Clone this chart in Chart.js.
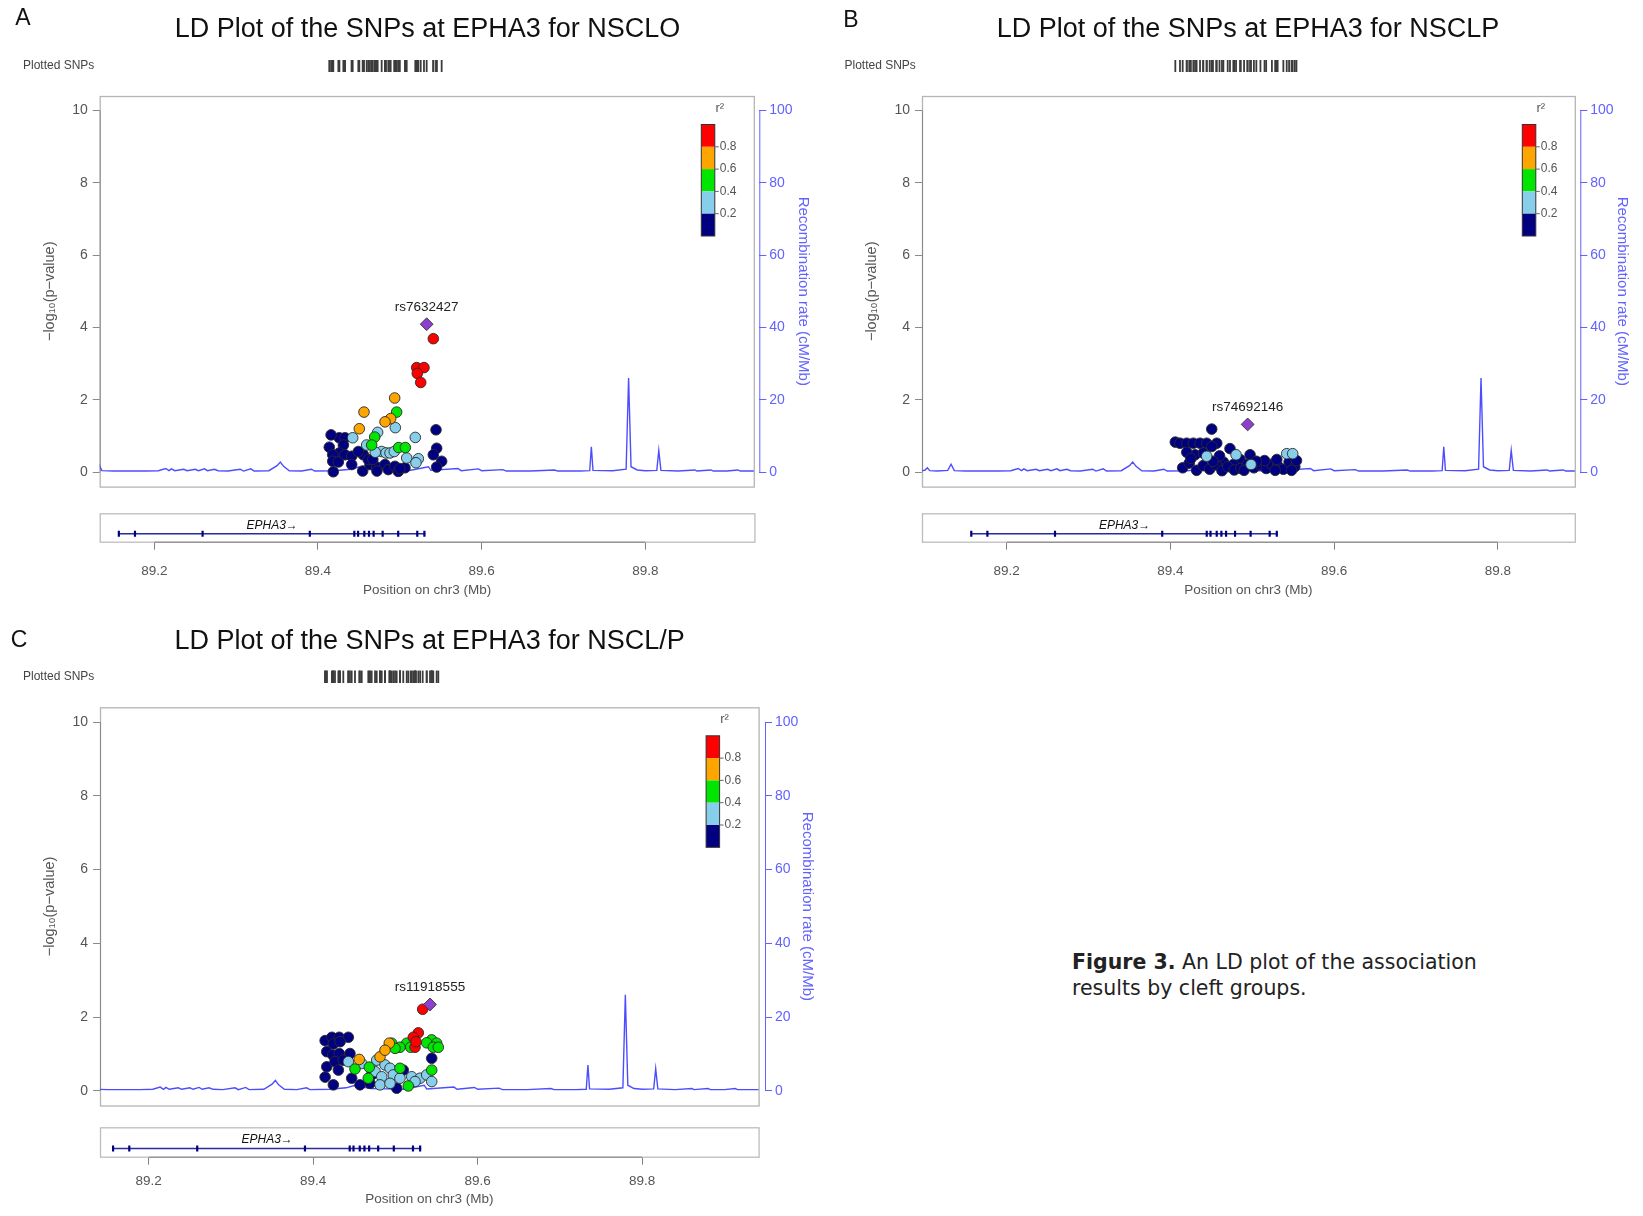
<!DOCTYPE html>
<html><head><meta charset="utf-8">
<script src="https://cdn.jsdelivr.net/npm/chart.js@4.4.0/dist/chart.umd.min.js"></script>
<style>
html,body{margin:0;padding:0;background:#fff;width:1643px;height:1216px;overflow:hidden;position:relative;}
canvas{position:absolute;}
#cap{position:absolute;left:1072px;top:949px;font-family:"DejaVu Sans","Open Sans",sans-serif;font-size:20.5px;line-height:26px;color:#222;}
</style></head><body>
<div id="cap"><b>Figure 3.</b> An LD plot of the association<br>results by cleft groups.</div>
<script>
// ---------------- data ----------------
const xTickValues = [89.2, 89.4, 89.6, 89.8];
const xTickLabels = ['89.2', '89.4', '89.6', '89.8'];
const yTickValues = [0, 2, 4, 6, 8, 10];
const recombTickValues = [0, 20, 40, 60, 80, 100];
const ldBreakLabels = ['0.8', '0.6', '0.4', '0.2'];

const geneName = 'EPHA3';
const geneStart = 89.1567, geneEnd = 89.5313;
const geneExons = [89.1567, 89.1764, 89.259, 89.390, 89.4444, 89.449, 89.4566, 89.4623, 89.468, 89.479, 89.498, 89.5213, 89.530];

const recombPos  = [89.090,89.100,89.103,89.106,89.115,89.128,89.132,89.136,89.150,89.170,89.190,89.205,89.214,89.218,89.221,89.225,89.236,89.240,89.250,89.254,89.2614,89.265,89.2735,89.278,89.290,89.305,89.309,89.318,89.322,89.340,89.350,89.354,89.358,89.365,89.380,89.392,89.396,89.420,89.440,89.450,89.460,89.470,89.490,89.510,89.535,89.538,89.571,89.575,89.596,89.600,89.626,89.630,89.660,89.689,89.693,89.720,89.732,89.734,89.736,89.760,89.7765,89.7795,89.7825,89.790,89.800,89.814,89.8164,89.819,89.840,89.8604,89.863,89.880,89.883,89.900,89.913,89.916,89.930,89.950];
const recombRate = [0.4,0.5,1.2,0.4,0.3,0.5,2.2,0.4,0.3,0.3,0.3,0.4,1.0,0.4,0.9,0.4,0.8,0.4,0.8,0.4,0.9,0.4,0.8,0.4,0.3,0.8,0.3,0.9,0.3,0.4,1.8,2.8,1.6,0.4,0.3,0.8,0.3,0.4,0.8,1.4,1.0,0.6,0.5,0.4,1.5,0.5,1.0,0.4,0.9,0.4,0.7,0.3,0.3,0.6,0.3,0.3,0.4,7.0,0.5,0.4,0.8,26.0,1.5,0.6,0.4,0.5,6.0,0.5,0.3,0.6,0.3,0.6,0.3,0.3,0.6,0.3,0.3,0.3];

// Panel A: NSCLO  [position (Mb), -log10 p]
const leadA = ['rs7632427', 89.5328, 4.09];
const A_r08 = [[89.5409,3.69],[89.5206,2.89],[89.5295,2.89],[89.5213,2.73],[89.5255,2.48]];
const A_r06 = [[89.4937,2.05],[89.4562,1.66],[89.4888,1.48],[89.4819,1.39],[89.4505,1.20]];
const A_r04 = [[89.4961,1.66],[89.4693,0.97],[89.4656,0.75],[89.4986,0.68],[89.5067,0.68]];
const A_r02 = [[89.4945,1.23],[89.4729,1.10],[89.5189,0.96],[89.4424,0.95],[89.4595,0.75],[89.4778,0.57],[89.4831,0.53],[89.4880,0.53],[89.4932,0.57],[89.5084,0.39],[89.5226,0.37],[89.5197,0.26],[89.4700,0.55]];
const A_r00 = [[89.5442,1.17],[89.4260,0.95],[89.4330,0.95],[89.4160,1.03],[89.4138,0.69],[89.4310,0.75],[89.5450,0.66],[89.4260,0.53],[89.4330,0.48],[89.4412,0.44],[89.4180,0.48],[89.4554,0.48],[89.4493,0.57],[89.5409,0.48],[89.5511,0.30],[89.5450,0.14],[89.4180,0.30],[89.4249,0.28],[89.4412,0.21],[89.4546,0.03],[89.4635,0.21],[89.4717,0.14],[89.4819,0.21],[89.4859,0.07],[89.4940,0.16],[89.4981,0.02],[89.5063,0.12],[89.4187,0.01],[89.4614,0.35],[89.4670,0.35],[89.4720,0.03],[89.5000,0.10]];

// Panel B: NSCLP
const leadB = ['rs74692146', 89.4944, 1.32];
const B_r08 = [];
const B_r06 = [];
const B_r04 = [];
const B_r02 = [[89.4443,0.44],[89.4802,0.48],[89.4985,0.21],[89.5421,0.51],[89.5494,0.51]];
const B_r00 = [[89.4505,1.19],[89.4060,0.83],[89.4117,0.80],[89.4199,0.80],[89.4280,0.80],[89.4362,0.80],[89.4443,0.80],[89.4566,0.80],[89.4505,0.71],[89.4301,0.48],[89.4728,0.65],[89.4402,0.53],[89.4973,0.48],[89.4851,0.35],[89.4647,0.28],[89.4769,0.21],[89.4150,0.12],[89.4230,0.25],[89.4320,0.05],[89.4400,0.18],[89.4480,0.08],[89.4560,0.20],[89.4630,0.04],[89.4700,0.15],[89.4780,0.06],[89.4860,0.10],[89.4940,0.22],[89.5020,0.12],[89.5100,0.20],[89.5170,0.10],[89.5240,0.22],[89.5310,0.18],[89.5380,0.08],[89.5450,0.28],[89.5520,0.15],[89.4200,0.55],[89.4600,0.45],[89.5150,0.32],[89.5300,0.35],[89.5540,0.32],[89.5050,0.30],[89.4250,0.38],[89.4520,0.30],[89.4900,0.05],[89.5280,0.05],[89.5480,0.05]];

// Panel C: NSCL/P
const leadC = ['rs11918555', 89.5420, 2.34];
const C_r08 = [[89.5331,2.21],[89.5278,1.57],[89.5217,1.45],[89.5238,1.18],[89.5250,1.33]];
const C_r06 = [[89.4925,1.29],[89.4812,0.92],[89.4560,0.85],[89.4873,1.10]];
const C_r04 = [[89.4954,1.29],[89.5440,1.38],[89.5501,1.29],[89.5380,1.30],[89.5460,1.18],[89.5521,1.18],[89.5137,1.29],[89.5055,1.18],[89.4995,1.15],[89.5185,1.18],[89.4508,0.59],[89.4682,0.64],[89.4670,0.34],[89.5055,0.61],[89.5441,0.56],[89.5156,0.13]];
const C_r02 = [[89.4427,0.79],[89.4590,0.74],[89.4772,0.83],[89.4873,0.70],[89.4934,0.61],[89.4752,0.52],[89.4833,0.38],[89.4974,0.43],[89.5055,0.34],[89.5198,0.38],[89.5300,0.34],[89.5380,0.43],[89.4812,0.16],[89.4934,0.20],[89.5238,0.25],[89.5441,0.25]];
const C_r00 = [[89.4145,1.36],[89.4227,1.45],[89.4317,1.45],[89.4427,1.45],[89.4245,1.27],[89.4327,1.33],[89.4165,1.06],[89.4238,0.97],[89.4317,1.01],[89.4447,1.01],[89.5441,0.88],[89.5015,0.07],[89.4145,0.37],[89.4165,0.65],[89.4265,0.79],[89.4366,0.83],[89.4306,0.56],[89.4468,0.34],[89.4569,0.16],[89.4691,0.20],[89.5095,0.56],[89.4245,0.16],[89.4711,0.43]];

// ---------------- styling / layout ----------------
const FONT = '"Liberation Sans", Arial, sans-serif';
Chart.defaults.font.family = FONT;
const LD_COLORS = ['#ff0000', '#ffa500', '#00e600', '#87ceeb', '#000080'];
const LEAD_COLOR = '#8e3fd0';
const RECOMB_COLOR = '#4d4dff';
const RECOMB_TEXT = '#6262ff';
const AXIS_TEXT = '#555555';

const panels = [
  {letter:'A', title:'LD Plot of the SNPs at EPHA3 for NSCLO', lead:leadA, bins:[A_r08,A_r06,A_r04,A_r02,A_r00],
   left:0, top:0, w:820, h:500, aL:99.7, aR:759.3, aT:96, aB:492.4, gap:5.5, xmin:89.1333, xmax:89.9392,
   titleXY:[427.5,29.3], letterXY:[23,19], plotted:[23,66], rug:[60,72], yTitleX:50, rTitleX:803.3,
   gTop:500, gH:110, gAT:513.3, gAB:541.7, gR:754.4, gxmin:89.1333, gxmax:89.9332, tickPad:13.5, titlePadB:11.5},
  {letter:'B', title:'LD Plot of the SNPs at EPHA3 for NSCLP', lead:leadB, bins:[B_r08,B_r06,B_r04,B_r02,B_r00],
   left:822, top:0, w:821, h:500, aL:922, aR:1580.3, aT:96, aB:492.4, gap:5.5, xmin:89.0965, xmax:89.9008,
   titleXY:[1248,29.3], letterXY:[851,21], plotted:[844.5,66], rug:[60,72], yTitleX:871.8, rTitleX:1622,
   gTop:500, gH:110, gAT:513.3, gAB:541.7, gR:1574.8, gxmin:89.0965, gxmax:89.8941, tickPad:13.5, titlePadB:11.5},
  {letter:'C', title:'LD Plot of the SNPs at EPHA3 for NSCL/P', lead:leadC, bins:[C_r08,C_r06,C_r04,C_r02,C_r00],
   left:0, top:600, w:820, h:520, aL:100, aR:765, aT:707.3, aB:1105.5, gap:6.4, xmin:89.1408, xmax:89.9493,
   titleXY:[429.6,641.3], letterXY:[19,641], plotted:[23,677], rug:[670.6,683], yTitleX:50.3, rTitleX:806.8,
   gTop:1120, gH:96, gAT:1127.3, gAB:1156.7, gR:758.6, gxmin:89.1408, gxmax:89.9415, tickPad:8.5, titlePadB:8.9}
];

function makeCanvas(left, top, w, h) {
  const c = document.createElement('canvas');
  c.width = w; c.height = h;
  c.style.left = left + 'px'; c.style.top = top + 'px';
  c.style.width = w + 'px'; c.style.height = h + 'px';
  document.body.appendChild(c);
  return c;
}
const toPts = arr => arr.map(d => ({x: d[0], y: d[1]}));

function makeMain(p) {
  const canvas = makeCanvas(p.left, p.top, p.w, p.h);
  const datasets = [];
  datasets.push({type:'scatter', label:'lead', data:[{x:p.lead[1], y:p.lead[2]}], pointStyle:'rectRot', pointRadius:6.4,
    backgroundColor:LEAD_COLOR, borderColor:'#333', borderWidth:0.9, yAxisID:'y'});
  p.bins.forEach((b, i) => datasets.push({type:'scatter', label:'ld'+i, data:toPts(b), pointStyle:'circle', pointRadius:5.3,
    backgroundColor:LD_COLORS[i], borderColor:'#2a2a2a', borderWidth:0.9, yAxisID:'y'}));
  datasets.push({type:'line', label:'recomb', data:recombPos.map((x, i) => ({x, y:recombRate[i]})), yAxisID:'y2',
    borderColor:RECOMB_COLOR, borderWidth:1.4, pointRadius:0, tension:0, fill:false,
    clip:{left:0, top:0, right:-p.gap, bottom:0}});
  const allX = [p.lead[1]].concat(...p.bins.map(b => b.map(d => d[0])));

  const deco = {
    id:'deco'+p.letter,
    beforeDatasetsDraw(chart) {
      const {ctx, chartArea:ca, scales} = chart;
      ctx.save();
      ctx.strokeStyle = '#b5b5b5'; ctx.lineWidth = 1.3;
      ctx.strokeRect(ca.left + 0.5, ca.top + 0.5, ca.right - p.gap - ca.left, ca.bottom - ca.top);
      ctx.strokeStyle = RECOMB_TEXT; ctx.lineWidth = 1;
      ctx.beginPath();
      ctx.moveTo(ca.right + 0.5, scales.y2.getPixelForValue(0));
      ctx.lineTo(ca.right + 0.5, scales.y2.getPixelForValue(100));
      ctx.stroke();
      ctx.strokeStyle = '#8a8a8a';
      ctx.beginPath();
      ctx.moveTo(ca.left + 0.5, scales.y.getPixelForValue(0));
      ctx.lineTo(ca.left + 0.5, scales.y.getPixelForValue(10));
      ctx.stroke();
      ctx.restore();
    },
    afterDraw(chart) {
      const {ctx, chartArea:ca, scales} = chart;
      const ox = p.left, oy = p.top;
      ctx.save();
      ctx.fillStyle = '#111'; ctx.textAlign = 'center'; ctx.textBaseline = 'middle';
      ctx.font = '23px ' + FONT;
      ctx.fillText(p.letter, p.letterXY[0] - ox, p.letterXY[1] - oy);
      ctx.font = '27px ' + FONT;
      ctx.fillText(p.title, p.titleXY[0] - ox, p.titleXY[1] - oy);
      ctx.font = '12px ' + FONT; ctx.fillStyle = '#444'; ctx.textAlign = 'left';
      ctx.fillText('Plotted SNPs', p.plotted[0] - ox, p.plotted[1] - oy);
      ctx.strokeStyle = '#3c3c3c'; ctx.lineWidth = 1.8;
      allX.forEach(x => {
        const px = scales.x.getPixelForValue(x);
        ctx.beginPath(); ctx.moveTo(px, p.rug[0] - oy); ctx.lineTo(px, p.rug[1] - oy); ctx.stroke();
      });
      // LD legend
      const boxRight = ca.right - p.gap;
      const bR = boxRight - 39, bW = 13.5, bL = bR - bW, bT = ca.top + 28.5, segH = 22.3;
      LD_COLORS.forEach((c, i) => { ctx.fillStyle = c; ctx.fillRect(bL, bT + i * segH, bW, segH); });
      ctx.strokeStyle = '#333'; ctx.lineWidth = 1;
      ctx.strokeRect(bL, bT, bW, segH * 5);
      ctx.font = '12px ' + FONT; ctx.fillStyle = AXIS_TEXT; ctx.textAlign = 'left'; ctx.textBaseline = 'middle';
      ctx.strokeStyle = '#666';
      ldBreakLabels.forEach((lab, j) => {
        const yy = bT + (j + 1) * segH;
        ctx.beginPath(); ctx.moveTo(bR, yy); ctx.lineTo(bR + 4, yy); ctx.stroke();
        ctx.fillText(lab, bR + 5, yy);
      });
      ctx.textAlign = 'center';
      ctx.font = '13px ' + FONT;
      ctx.fillText('r²', bR + 5, bT - 16);
      ctx.font = '13.5px ' + FONT; ctx.fillStyle = '#222';
      ctx.fillText(p.lead[0], scales.x.getPixelForValue(p.lead[1]), scales.y.getPixelForValue(p.lead[2]) - 17);
      ctx.restore();
    }
  };

  new Chart(canvas, {
    type:'scatter',
    data:{datasets},
    options:{
      responsive:false, animation:false, events:[], devicePixelRatio:1,
      layout:{padding:{left:0, right:0, top:p.aT - p.top, bottom:p.top + p.h - p.aB}},
      plugins:{legend:{display:false}, tooltip:{enabled:false}, title:{display:false}},
      scales:{
        x:{type:'linear', min:p.xmin, max:p.xmax, display:false},
        y:{type:'linear', position:'left', min:-0.4, max:10.4,
          afterBuildTicks:s => { s.ticks = yTickValues.map(v => ({value:v})); },
          afterFit:s => { s.width = p.aL - p.left; },
          grid:{drawOnChartArea:false, drawTicks:true, tickLength:7, color:'#8a8a8a'},
          border:{display:false},
          ticks:{color:AXIS_TEXT, font:{size:14}, padding:5},
          title:{display:true, text:'−log₁₀(p−value)', color:AXIS_TEXT, font:{size:14.5}, padding:{top:p.yTitleX - p.left - 8.7, bottom:0}}},
        y2:{type:'linear', position:'right', min:-4, max:104,
          afterBuildTicks:s => { s.ticks = recombTickValues.map(v => ({value:v})); },
          afterFit:s => { s.width = p.left + p.w - p.aR; },
          grid:{drawOnChartArea:false, drawTicks:true, tickLength:7, color:RECOMB_TEXT},
          border:{display:false},
          ticks:{color:RECOMB_TEXT, font:{size:14}, padding:3},
          title:{display:true, text:'Recombination rate (cM/Mb)', color:RECOMB_TEXT, font:{size:15}, padding:{top:p.left + p.w - p.rTitleX - 9, bottom:0}}}
      }
    },
    plugins:[deco]
  });
}

function makeGene(p) {
  const canvas = makeCanvas(p.left, p.gTop, p.w, p.gH);
  const deco = {
    id:'gene'+p.letter,
    beforeDatasetsDraw(chart) {
      const {ctx, chartArea:ca, scales} = chart;
      ctx.save();
      ctx.strokeStyle = '#bdbdbd'; ctx.lineWidth = 1.3;
      ctx.strokeRect(ca.left + 0.5, ca.top + 0.5, ca.right - ca.left, ca.bottom - ca.top);
      ctx.strokeStyle = '#808080'; ctx.lineWidth = 1;
      ctx.beginPath();
      ctx.moveTo(scales.x.getPixelForValue(xTickValues[0]), ca.bottom + 0.5);
      ctx.lineTo(scales.x.getPixelForValue(xTickValues[xTickValues.length - 1]), ca.bottom + 0.5);
      ctx.stroke();
      ctx.restore();
    },
    afterDatasetsDraw(chart) {
      const {ctx, scales} = chart;
      ctx.save();
      ctx.font = 'italic 12px ' + FONT; ctx.fillStyle = '#111';
      ctx.textAlign = 'center'; ctx.textBaseline = 'middle';
      ctx.fillText(geneName + '→', scales.x.getPixelForValue((geneStart + geneEnd) / 2), scales.y.getPixelForValue(0.58));
      ctx.restore();
    }
  };
  new Chart(canvas, {
    type:'scatter',
    data:{datasets:[
      {type:'scatter', label:'exons', data:geneExons.map(x => ({x, y:0.28})), pointStyle:'line', rotation:90,
        pointRadius:3, borderColor:'#000080', borderWidth:2.2, backgroundColor:'#000080'},
      {type:'line', label:'gene', data:[{x:geneStart, y:0.28}, {x:geneEnd, y:0.28}], borderColor:'#2b2b9a',
        borderWidth:1.5, pointRadius:0}
    ]},
    options:{
      responsive:false, animation:false, events:[], devicePixelRatio:1,
      layout:{padding:{left:p.aL - p.left, right:p.left + p.w - p.gR, top:p.gAT - p.gTop, bottom:0}},
      plugins:{legend:{display:false}, tooltip:{enabled:false}},
      scales:{
        x:{type:'linear', position:'bottom', min:p.gxmin, max:p.gxmax,
          afterBuildTicks:s => { s.ticks = xTickValues.map(v => ({value:v})); },
          afterFit:s => { s.height = p.gTop + p.gH - p.gAB; },
          grid:{drawOnChartArea:false, drawTicks:true, tickLength:8, color:'#808080'},
          border:{display:false},
          ticks:{color:AXIS_TEXT, font:{size:13.5}, padding:p.tickPad, maxRotation:0, autoSkip:false,
            callback:(v, i) => xTickLabels[i]},
          title:{display:true, text:'Position on chr3 (Mb)', color:AXIS_TEXT, font:{size:13.5}, padding:{top:0, bottom:p.titlePadB}}},
        y:{type:'linear', min:0, max:1, display:false}
      }
    },
    plugins:[deco]
  });
}

panels.forEach(p => { makeMain(p); makeGene(p); });
</script>
</body></html>
